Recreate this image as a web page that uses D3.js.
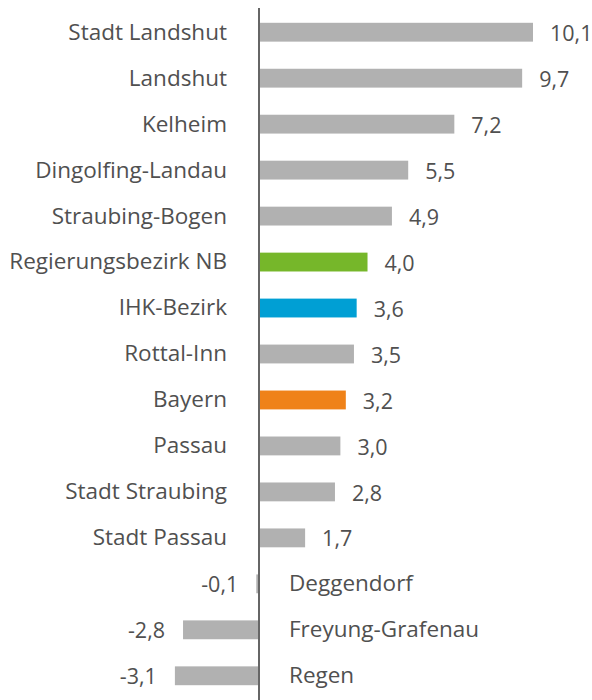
<!DOCTYPE html>
<html>
<head>
<meta charset="utf-8">
<script src="https://cdn.jsdelivr.net/npm/d3@7"></script>
<style>
  body { margin: 0; background: #fff; }
  text { font-family: 'Open Sans', sans-serif; fill: #505050; }
</style>
</head>
<body>
<svg></svg>
<script>
const w = 592
const h = 700

// data
const regions = ['Stadt Landshut', 'Landshut', 'Kelheim', 'Dingolfing-Landau', 'Straubing-Bogen',
  'Regierungsbezirk NB', 'IHK-Bezirk', 'Rottal-Inn', 'Bayern', 'Passau', 'Stadt Straubing',
  'Stadt Passau', 'Deggendorf', 'Freyung-Grafenau', 'Regen']
const values = [10.1, 9.7, 7.2, 5.5, 4.9, 4.0, 3.6, 3.5, 3.2, 3.0, 2.8, 1.7, -0.1, -2.8, -3.1]
const highlight = { 'Regierungsbezirk NB': '#76b72a', 'IHK-Bezirk': '#009fd4', 'Bayern': '#ef8219' }

const data = regions.map((r, i) => ({ region: r, value: values[i] }))

const svg = d3.select('svg')
  .attr('width', w)
  .attr('height', h);

const margin = { top: 9, bottom: 0 }

const xScale = d3.scaleLinear()
  .domain([0, 10.1])
  .range([259, 533])

const yScale = d3.scaleBand()
  .domain(regions)
  .range([margin.top, margin.top + 46 * regions.length])
  .paddingInner(0.59)
  .paddingOuter(0.3)

const fmt = v => d3.format('.1f')(v).replace('.', ',').replace('−', '-')

const g = svg.append('g')

g.selectAll('rect').data(data)
  .enter().append('rect')
  .attr('x', d => xScale(Math.min(0, d.value)))
  .attr('width', d => Math.abs(xScale(d.value) - xScale(0)))
  .attr('y', d => yScale(d.region))
  .attr('height', yScale.bandwidth())
  .attr('fill', d => highlight[d.region] || '#b1b1b1')

// category labels
g.selectAll('text.cat').data(data)
  .enter().append('text')
  .attr('class', 'cat')
  .attr('x', d => d.value >= 0 ? xScale(0) - 32 : xScale(0) + 30)
  .attr('y', d => yScale(d.region) + yScale.bandwidth() / 2)
  .attr('dy', '0.33em')
  .attr('text-anchor', d => d.value >= 0 ? 'end' : 'start')
  .attr('font-size', 22.5)
  .text(d => d.region)

// value labels
g.selectAll('text.val').data(data)
  .enter().append('text')
  .attr('class', 'val')
  .attr('x', d => d.value >= 0 ? xScale(d.value) + 17 : xScale(d.value) - 18)
  .attr('y', d => yScale(d.region) + yScale.bandwidth() / 2)
  .attr('dy', '0.4em')
  .attr('text-anchor', d => d.value >= 0 ? 'start' : 'end')
  .attr('font-size', 21.5)
  .text(d => fmt(d.value))

// zero axis
svg.append('line')
  .attr('x1', xScale(0)).attr('x2', xScale(0))
  .attr('y1', 8).attr('y2', h)
  .attr('stroke', '#666')
  .attr('stroke-width', 2)
</script>
</body>
</html>
